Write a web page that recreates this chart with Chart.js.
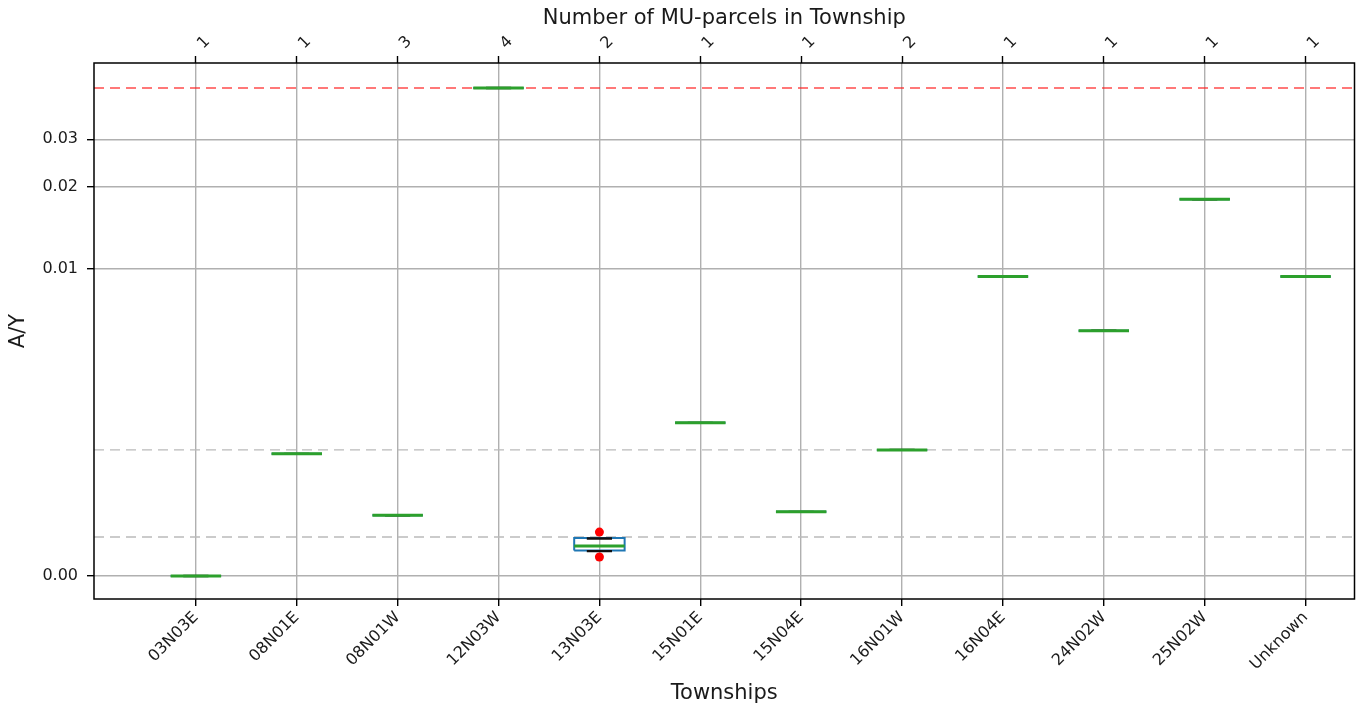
<!DOCTYPE html>
<html>
<head>
<meta charset="utf-8">
<script src="https://cdn.jsdelivr.net/npm/chart.js@4/dist/chart.umd.min.js"></script>
<style>
  html, body { margin: 0; padding: 0; background: #fff; }
  canvas { display: block; }
</style>
</head>
<body>
<canvas id="boxChart" width="1359" height="708"></canvas>
<script>
const townships = ["03N03E", "08N01E", "08N01W", "12N03W", "13N03E", "15N01E",
                   "15N04E", "16N01W", "16N04E", "24N02W", "25N02W", "Unknown"];
const parcelCounts = [1, 1, 3, 4, 2, 1, 1, 2, 1, 1, 1, 1];

// box statistics per township (A/Y)
const medians        = [0.0, 0.00398, 0.00198, 0.0463, 0.00098, 0.00499, 0.00209, 0.00411, 0.00976, 0.00799, 0.01807, 0.00976];
const lowerQuartiles = [0.0, 0.00398, 0.00198, 0.0463, 0.00083, 0.00499, 0.00209, 0.00411, 0.00976, 0.00799, 0.01807, 0.00976];
const upperQuartiles = [0.0, 0.00398, 0.00198, 0.0463, 0.00124, 0.00499, 0.00209, 0.00411, 0.00976, 0.00799, 0.01807, 0.00976];
const whiskerLows    = [0.0, 0.00398, 0.00198, 0.0463, 0.00081, 0.00499, 0.00209, 0.00411, 0.00976, 0.00799, 0.01807, 0.00976];
const whiskerHighs   = [0.0, 0.00398, 0.00198, 0.0463, 0.00122, 0.00499, 0.00209, 0.00411, 0.00976, 0.00799, 0.01807, 0.00976];
const outliers       = [[], [], [], [], [0.00062, 0.00143], [], [], [], [], [], [], []];

const yTicks = [0, 0.01, 0.02, 0.03];
const thresholdLine = 0.0463;
const guideLines = [0.00411, 0.00127];

// symmetric log scale: linear below LINTHRESH, log10 above
const LINTHRESH = 0.01;
const LINSCALE = 1.127;
function symlog(v) {
  const a = Math.abs(v);
  if (a <= LINTHRESH) return v / LINTHRESH * LINSCALE;
  return Math.sign(v) * (LINSCALE + Math.log10(a / LINTHRESH));
}
function symexp(t) {
  const a = Math.abs(t);
  if (a <= LINSCALE) return t / LINSCALE * LINTHRESH;
  return Math.sign(t) * LINTHRESH * Math.pow(10, a - LINSCALE);
}

const LinearScale = Chart.LinearScale || Chart.registry.getScale('linear');
class SymlogScale extends LinearScale {
  configure() {
    super.configure();
    this._tMin = symlog(this.min);
    this._tMax = symlog(this.max);
  }
  getPixelForValue(value) {
    if (value === null || value === undefined || isNaN(value)) return NaN;
    return this.getPixelForDecimal((symlog(value) - this._tMin) / (this._tMax - this._tMin));
  }
  getValueForPixel(pixel) {
    return symexp(this._tMin + this.getDecimalForPixel(pixel) * (this._tMax - this._tMin));
  }
}
SymlogScale.id = 'symlog';
SymlogScale.defaults = LinearScale.defaults;
Chart.register(SymlogScale);

// build box-plot pieces as line segments, broken by null points
const BOX_HALF = 0.25;
const CAP_HALF = 0.125;
const boxPts = [], whiskerPts = [], capPts = [], medianPts = [], flierPts = [];
townships.forEach((name, i) => {
  const x = i + 1;
  const lo = lowerQuartiles[i], hi = upperQuartiles[i];
  boxPts.push(
    { x: x - BOX_HALF, y: lo }, { x: x + BOX_HALF, y: lo },
    { x: x + BOX_HALF, y: hi }, { x: x - BOX_HALF, y: hi },
    { x: x - BOX_HALF, y: lo }, { x: x, y: null });
  whiskerPts.push(
    { x: x, y: hi }, { x: x, y: whiskerHighs[i] }, { x: x, y: null },
    { x: x, y: lo }, { x: x, y: whiskerLows[i] }, { x: x, y: null });
  capPts.push(
    { x: x - CAP_HALF, y: whiskerHighs[i] }, { x: x + CAP_HALF, y: whiskerHighs[i] }, { x: x, y: null },
    { x: x - CAP_HALF, y: whiskerLows[i] }, { x: x + CAP_HALF, y: whiskerLows[i] }, { x: x, y: null });
  medianPts.push({ x: x - BOX_HALF, y: medians[i] }, { x: x + BOX_HALF, y: medians[i] }, { x: x, y: null });
  outliers[i].forEach(v => flierPts.push({ x: x, y: v }));
});

const X_MIN = -0.01, X_MAX = 12.485;
const guidePts = [];
guideLines.forEach(v => guidePts.push({ x: X_MIN, y: v }, { x: X_MAX, y: v }, { x: X_MAX, y: null }));

const seg = (data, color, width, order, extra) => Object.assign({
  data, borderColor: color, borderWidth: width, pointRadius: 0,
  spanGaps: false, tension: 0, fill: false, order, xAxisID: 'x', yAxisID: 'y'
}, extra || {});

const frame = {
  id: 'frame',
  afterDraw(chart) {
    const { ctx, chartArea: a } = chart;
    ctx.save();
    ctx.strokeStyle = '#000';
    ctx.lineWidth = 1.5;
    ctx.strokeRect(a.left, a.top, a.right - a.left, a.bottom - a.top);
    ctx.restore();
  }
};

Chart.defaults.font.family = "'DejaVu Sans', sans-serif";
Chart.defaults.color = '#1a1a1a';

const TICK_FONT = { size: 16 };
const TITLE_FONT = { size: 21 };

new Chart(document.getElementById('boxChart'), {
  type: 'line',
  data: {
    datasets: [
      seg([{ x: X_MIN, y: thresholdLine }, { x: X_MAX, y: thresholdLine }], 'rgba(255,30,30,0.8)', 1.4, 7, { borderDash: [10, 6] }),
      seg(guidePts, '#bababa', 1.4, 6, { borderDash: [10, 6] }),
      seg(boxPts, '#1f77b4', 2, 5),
      seg(whiskerPts, '#1f77b4', 2, 4),
      seg(capPts, '#111111', 2.4, 3),
      seg(medianPts, '#2ca02c', 3, 2),
      {
        type: 'scatter', data: flierPts, order: 1, xAxisID: 'x', yAxisID: 'y',
        pointRadius: 4.5, pointBackgroundColor: '#ff0000', pointBorderWidth: 0, showLine: false
      }
    ]
  },
  options: {
    responsive: false,
    animation: false,
    devicePixelRatio: 1,
    layout: { padding: { left: 0, right: 3, top: 0, bottom: 0 } },
    plugins: { legend: { display: false }, tooltip: { enabled: false } },
    scales: {
      x: {
        type: 'linear', position: 'bottom', min: X_MIN, max: X_MAX,
        afterBuildTicks: s => { s.ticks = townships.map((t, i) => ({ value: i + 1 })); },
        afterFit: s => { s.height = 109; },
        ticks: {
          font: TICK_FONT, minRotation: 45, maxRotation: 45, padding: 2, autoSkip: false,
          callback: v => townships[v - 1]
        },
        grid: { color: '#b0b0b0', lineWidth: 1.4, tickColor: '#000', tickLength: 7, tickWidth: 1.4 },
        border: { display: false },
        title: { display: true, text: 'Townships', font: TITLE_FONT, padding: { top: 0, bottom: 2 } }
      },
      x2: {
        type: 'linear', position: 'top', min: X_MIN, max: X_MAX,
        afterBuildTicks: s => { s.ticks = parcelCounts.map((c, i) => ({ value: i + 1 })); },
        afterFit: s => { s.height = 63; },
        ticks: {
          font: TICK_FONT, minRotation: 45, maxRotation: 45, padding: 3, labelOffset: 18, autoSkip: false,
          callback: v => String(parcelCounts[v - 1])
        },
        grid: { drawOnChartArea: false, tickColor: '#000', tickLength: 7, tickWidth: 1.4 },
        border: { display: false },
        title: { display: true, text: 'Number of MU-parcels in Township', font: TITLE_FONT, padding: { top: 6, bottom: 0 } }
      },
      y: {
        type: 'symlog', position: 'left', min: -0.00075, max: 0.05717,
        afterBuildTicks: s => { s.ticks = yTicks.map(v => ({ value: v })); },
        afterFit: s => { s.width = 94; },
        ticks: { font: TICK_FONT, padding: 9, callback: v => v.toFixed(2) },
        grid: { color: '#b0b0b0', lineWidth: 1.4, tickColor: '#000', tickLength: 7, tickWidth: 1.4 },
        border: { display: false },
        title: { display: true, text: 'A/Y', font: TITLE_FONT, padding: { top: 6, bottom: 0 } }
      }
    }
  },
  plugins: [frame]
});
</script>
</body>
</html>
